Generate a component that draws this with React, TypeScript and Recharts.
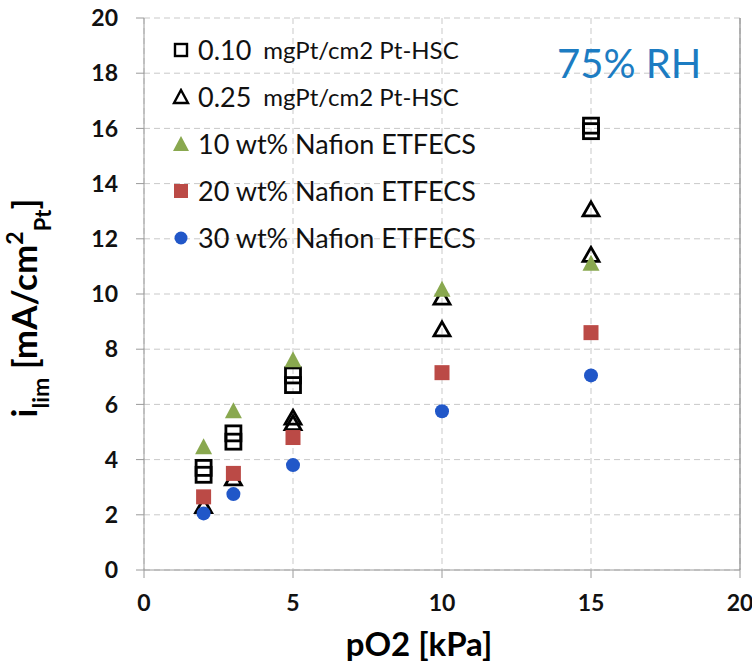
import { CartesianGrid, ReferenceLine, Scatter, ScatterChart, XAxis, YAxis } from "recharts"

// pO2 [kPa] and i_lim [mA/cm2_Pt]
const lowPtX = [2, 2, 3, 3, 5, 5, 15, 15]
const lowPtY = [3.7, 3.45, 4.95, 4.65, 7.05, 6.7, 16.1, 15.9]
const highPtX = [2, 3, 5, 5, 10, 10, 15, 15]
const highPtY = [2.3, 3.3, 5.5, 5.3, 9.85, 8.7, 13.05, 11.4]
const nafionX = [2, 3, 5, 10, 15]
const nafion10 = [4.45, 5.75, 7.6, 10.15, 11.1]
const nafion20 = [2.65, 3.5, 4.8, 7.15, 8.6]
const nafion30 = [2.05, 2.75, 3.8, 5.75, 7.05]

const xTicks = [0, 5, 10, 15, 20]
const yTicks = [0, 2, 4, 6, 8, 10, 12, 14, 16, 18, 20]

const seriesNames = [
    ["0.10", "mgPt/cm2 Pt-HSC"],
    ["0.25", "mgPt/cm2 Pt-HSC"],
    ["10 wt% Nafion ETFECS", ""],
    ["20 wt% Nafion ETFECS", ""],
    ["30 wt% Nafion ETFECS", ""],
]

const FONT = "Lato, 'Open Sans', sans-serif"
const GREEN = "#89a84f"
const RED = "#bb4a46"
const BLUE = "#2157c8"

const toPoints = (xs: number[], ys: number[]) => xs.map((x, i) => ({ x, y: ys[i] }))

const OpenSquare = (props: any) => {
    const { cx, cy } = props
    return <rect x={cx - 7.5} y={cy - 7.5} width={15} height={15} fill="none" stroke="#000" strokeWidth={2.8} />
}

const OpenTriangle = (props: any) => {
    const { cx, cy } = props
    return (
        <polygon
            points={`${cx},${cy - 8} ${cx + 8},${cy + 6} ${cx - 8},${cy + 6}`}
            fill="none"
            stroke="#000"
            strokeWidth={2.8}
        />
    )
}

const GreenTriangle = (props: any) => {
    const { cx, cy } = props
    return <polygon points={`${cx},${cy - 9} ${cx + 8.5},${cy + 7} ${cx - 8.5},${cy + 7}`} fill={GREEN} />
}

const RedSquare = (props: any) => {
    const { cx, cy } = props
    return <rect x={cx - 7.5} y={cy - 7.5} width={15} height={15} fill={RED} />
}

const BlueDot = (props: any) => {
    const { cx, cy } = props
    return <circle cx={cx} cy={cy} r={7} fill={BLUE} />
}

function legendSymbol(i: number) {
    if (i === 0) return <rect x={3} y={3} width={12} height={12} fill="none" stroke="#000" strokeWidth={2.4} />
    if (i === 1) return <polygon points="9,2 16,15 2,15" fill="none" stroke="#000" strokeWidth={2.4} />
    if (i === 2) return <polygon points="9,1 17,16 1,16" fill={GREEN} />
    if (i === 3) return <rect x={2} y={2} width={14} height={14} fill={RED} />
    return <circle cx={9} cy={9} r={6.5} fill={BLUE} />
}

function LegendBox() {
    return (
        <div style={{ position: "absolute", left: 172, top: 26, fontFamily: FONT, color: "#111" }}>
            {seriesNames.map((n, i) => (
                <div key={i} style={{ display: "flex", alignItems: "center", height: 47 }}>
                    <svg width={18} height={18} style={{ marginRight: 8 }}>
                        {legendSymbol(i)}
                    </svg>
                    <span style={{ fontSize: 27 }}>{n[0]}</span>
                    {n[1] && <span style={{ fontSize: 24, marginLeft: 12 }}>{n[1]}</span>}
                </div>
            ))}
        </div>
    )
}

const YTitle = (props: any) => {
    const { viewBox } = props
    const x = viewBox.x + 37
    const y = viewBox.y + viewBox.height / 2 + 14
    return (
        <text
            x={x}
            y={y}
            transform={`rotate(-90, ${x}, ${y})`}
            textAnchor="middle"
            fontFamily={FONT}
            fontWeight="bold"
            fontSize={35}
            fill="#000"
        >
            <tspan>i</tspan>
            <tspan fontSize={23} dy={12}>lim</tspan>
            <tspan dy={-12}> [mA/cm</tspan>
            <tspan fontSize={23} dy={-14}>2</tspan>
            <tspan fontSize={22} dy={28}>Pt</tspan>
            <tspan dy={-14}>]</tspan>
        </text>
    )
}

const XTitle = (props: any) => {
    const { viewBox } = props
    return (
        <text
            x={viewBox.x + viewBox.width / 2 - 23}
            y={viewBox.y + 86}
            textAnchor="middle"
            fontFamily={FONT}
            fontWeight="bold"
            fontSize={33}
            fill="#000"
        >
            pO2 [kPa]
        </text>
    )
}

export default function App() {
    const tickStyle = { fill: "#111", fontSize: 23, fontWeight: "bold", fontFamily: FONT }
    return (
        <div style={{ position: "absolute", left: 0, top: 0, width: 752, height: 665, background: "#fff" }}>
            <ScatterChart width={752} height={665} margin={{ top: 18, right: 12, bottom: 0, left: 0 }}>
                <CartesianGrid stroke="#c9c9c9" strokeDasharray="6 4" />
                <XAxis
                    type="number"
                    dataKey="x"
                    domain={[0, 20]}
                    ticks={xTicks}
                    height={95}
                    stroke="#9a9a9a"
                    tickSize={8}
                    tickMargin={17}
                    tick={tickStyle}
                    label={<XTitle />}
                />
                <YAxis
                    type="number"
                    dataKey="y"
                    domain={[0, 20]}
                    ticks={yTicks}
                    width={144}
                    stroke="#9a9a9a"
                    tickSize={8}
                    tickMargin={18}
                    tick={tickStyle}
                    label={<YTitle />}
                />
                <ReferenceLine x={20} stroke="#8a8a8a" strokeWidth={1.2} />
                <Scatter name="0.10 mgPt/cm2 Pt-HSC" data={toPoints(lowPtX, lowPtY)} shape={OpenSquare} isAnimationActive={false} />
                <Scatter name="0.25 mgPt/cm2 Pt-HSC" data={toPoints(highPtX, highPtY)} shape={OpenTriangle} isAnimationActive={false} />
                <Scatter name="10 wt% Nafion ETFECS" data={toPoints(nafionX, nafion10)} shape={GreenTriangle} isAnimationActive={false} />
                <Scatter name="20 wt% Nafion ETFECS" data={toPoints(nafionX, nafion20)} shape={RedSquare} isAnimationActive={false} />
                <Scatter name="30 wt% Nafion ETFECS" data={toPoints(nafionX, nafion30)} shape={BlueDot} isAnimationActive={false} />
            </ScatterChart>
            <LegendBox />
            <div
                style={{
                    position: "absolute",
                    left: 557,
                    top: 40,
                    fontFamily: FONT,
                    fontSize: 40,
                    lineHeight: "46px",
                    color: "#1c7cc2",
                }}
            >
                75% RH
            </div>
        </div>
    )
}
